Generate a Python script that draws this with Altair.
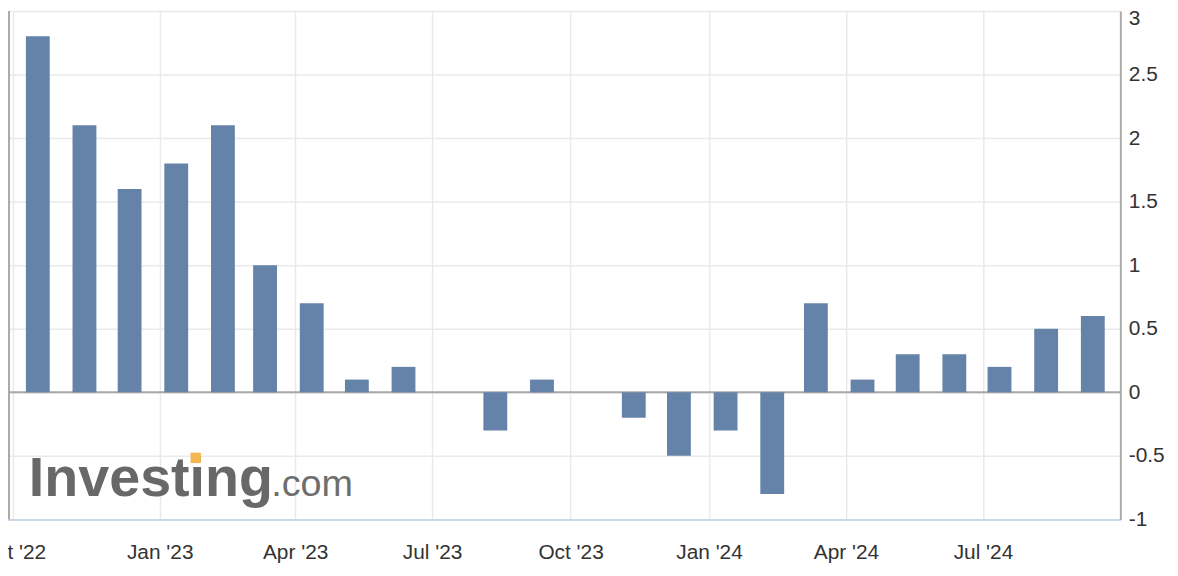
import altair as alt
import pandas as pd

# Monthly values (release ~12th of each month), Oct 2022 - Sep 2024
dates = [
    "2022-10-12", "2022-11-12", "2022-12-12", "2023-01-12", "2023-02-12", "2023-03-12",
    "2023-04-12", "2023-05-12", "2023-06-12", "2023-07-12", "2023-08-12", "2023-09-12",
    "2023-10-12", "2023-11-12", "2023-12-12", "2024-01-12", "2024-02-12", "2024-03-12",
    "2024-04-12", "2024-05-12", "2024-06-12", "2024-07-12", "2024-08-12", "2024-09-12",
]
values = [
    2.8, 2.1, 1.6, 1.8, 2.1, 1.0,
    0.7, 0.1, 0.2, 0.0, -0.3, 0.1,
    0.0, -0.2, -0.5, -0.3, -0.8, 0.7,
    0.1, 0.3, 0.3, 0.2, 0.5, 0.6,
]
y_ticks = [3, 2.5, 2, 1.5, 1, 0.5, 0, -0.5, -1]
x_tick_dates = [
    (2022, 9, 25, 12), (2023, 1, 1, 0), (2023, 4, 1, 0), (2023, 7, 1, 0), (2023, 10, 1, 0),
    (2024, 1, 1, 0), (2024, 4, 1, 0), (2024, 7, 1, 0),
]
x_domain = [(2022, 9, 25, 12), (2024, 9, 27, 0)]

df = pd.DataFrame({"date": dates, "value": values})

W, H = 1120, 512
BAR = "#6582a9"
FONT = "Liberation Sans"


def dt(t):
    return alt.DateTime(year=t[0], month=t[1], date=t[2], hours=t[3], utc=True)


x_enc = alt.X(
    "date:T",
    scale=alt.Scale(type="utc", domain=[dt(t) for t in x_domain]),
    axis=alt.Axis(
        values=[dt(t) for t in x_tick_dates],
        labelExpr="utcFormat(datum.value + 6*864e5, \"%b '%y\")",
        title=None,
        grid=True,
        gridColor="#eaeaea",
        gridWidth=1.5,
        ticks=False,
        tickSize=0,
        domainColor="#ccd6eb",
        domainWidth=2,
        labelFont=FONT,
        labelFontSize=21,
        labelColor="#333333",
        labelBaseline="alphabetic",
        labelPadding=39,
        labelOverlap=False,
        labelFlush=False,
    ),
)
y_enc = alt.Y(
    "value:Q",
    scale=alt.Scale(domain=[-1, 3], nice=False, zero=False),
    axis=alt.Axis(
        orient="right",
        values=y_ticks,
        labelExpr="'' + datum.value",
        title=None,
        grid=True,
        gridColor="#eaeaea",
        gridWidth=1.5,
        ticks=False,
        tickSize=0,
        domainColor="#aaaaaa",
        domainWidth=2,
        labelFont=FONT,
        labelFontSize=21,
        labelColor="#333333",
        labelAlign="left",
        labelBaseline="middle",
        labelPadding=8,
        labelOffset={"condition": {"test": "datum.value == 3", "value": 8}, "value": 0},
        labelFlush=False,
    ),
)

base = alt.Chart(df)

bars = base.mark_bar(width=24, color=BAR).encode(x=x_enc, y=y_enc)

zero = alt.Chart(alt.Data(values=[{"v": 0}])).mark_rule(color="#a8a8a8", strokeWidth=2).encode(
    y=alt.Y("v:Q", scale=alt.Scale(domain=[-1, 3], nice=False, zero=False))
)

deco = alt.Data(values=[{}])
left_line = alt.Chart(deco).mark_rule(color="#aaaaaa", strokeWidth=2).encode(
    x=alt.value(1), y=alt.value(0), y2=alt.value(H)
)
logo1 = alt.Chart(deco).mark_text(
    align="left", baseline="alphabetic", font=FONT, fontSize=56, fontWeight="bold", color="#686868"
).encode(x=alt.value(21), y=alt.value(488), text=alt.value("Investing"))
logo2 = alt.Chart(deco).mark_text(
    align="left", baseline="alphabetic", font=FONT, fontSize=38, color="#6e6e6e"
).encode(x=alt.value(265), y=alt.value(488), text=alt.value(".com"))
logo_dot = alt.Chart(deco).mark_square(color="#f4b753", size=110, opacity=1).encode(
    x=alt.value(189), y=alt.value(450)
)

chart = (
    alt.layer(zero, bars, left_line, logo1, logo2, logo_dot)
    .properties(
        width=W,
        height=H,
        autosize=alt.AutoSizeParams(type="none"),
        padding={"left": 0, "top": 1, "right": 50, "bottom": 55},
        background="white",
    )
    .configure_view(stroke=None)
)

chart.save("out.html", embed_options={"renderer": "svg", "actions": False})
